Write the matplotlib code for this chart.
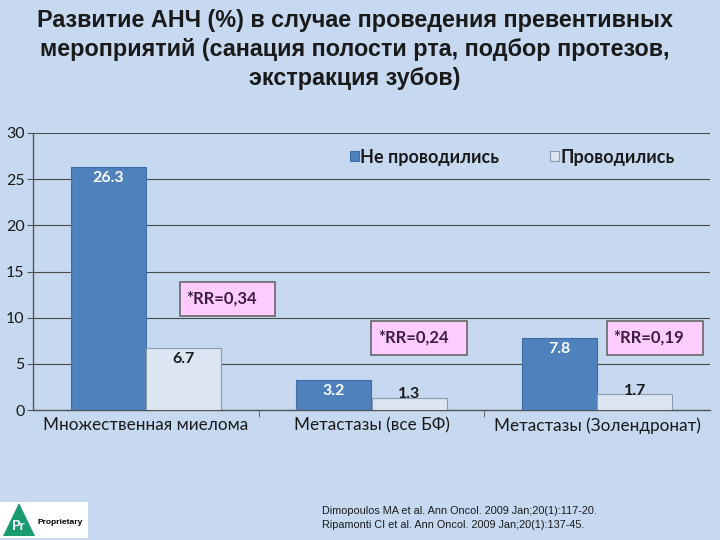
import matplotlib
matplotlib.use("Agg")
import matplotlib.pyplot as plt
from matplotlib.patches import Rectangle, Polygon

categories = ["Множественная миелома", "Метастазы (все БФ)", "Метастазы (Золендронат)"]
not_done = [26.3, 3.2, 7.8]
done = [6.7, 1.3, 1.7]
rr_labels = ["*RR=0,34", "*RR=0,24", "*RR=0,19"]
series_names = ["Не проводились", "Проводились"]
yticks = [0, 5, 10, 15, 20, 25, 30]

BG = "#c6d9f0"
DARK = "#4f81bd"
LIGHT = "#dce6f2"
TXT = "#1a1a1a"
NARROW = ["Liberation Sans", "DejaVu Sans"]

plt.rcParams["font.family"] = ["Lato", "DejaVu Sans"]
fig = plt.figure(figsize=(7.2, 5.4), dpi=100, facecolor=BG)
ax = fig.add_axes([33 / 720, 1 - 410 / 540, 677 / 720, 277 / 540])
ax.set_facecolor(BG)

x = list(range(len(categories)))
w = 0.333
b1 = ax.bar([i - w / 2 for i in x], not_done, w, color=DARK, edgecolor="#3d6ea8", linewidth=0.8, zorder=3)
b2 = ax.bar([i + w / 2 for i in x], done, w, color=LIGHT, edgecolor="#8a9bb0", linewidth=0.8, zorder=3)

for r, v in zip(b1, not_done):
    ax.text(r.get_x() + r.get_width() / 2, v - 0.4, f"{v:.1f}", ha="center", va="top",
            color="white", fontsize=11.5, fontweight="bold", zorder=4)
for r, v in zip(b2, done):
    yy = v - 0.4 if v > 3 else v + 1.15
    ax.text(r.get_x() + r.get_width() / 2, yy, f"{v:.1f}", ha="center", va="top",
            color=TXT, fontsize=11.5, fontweight="bold", zorder=4)

# RR boxes
boxes = [(0.151, 10.2, 0.421, 3.66), (0.998, 5.96, 0.425, 3.68), (2.043, 5.96, 0.426, 3.68)]
for (bx, by, bw, bh), lab in zip(boxes, rr_labels):
    ax.add_patch(Rectangle((bx, by), bw, bh, facecolor="#ffccff", edgecolor="#666666", linewidth=1.2, zorder=5))
    ax.text(bx + 0.03, by + bh / 2, lab, ha="left", va="center", color="#3b1f3f",
            fontsize=12, fontweight="bold", zorder=6)

ax.set_xlim(-0.5, 2.5)
ax.set_ylim(0, 30)
ax.set_yticks(yticks)
ax.set_yticklabels([str(t) for t in yticks], fontsize=11.5, color=TXT)
ax.yaxis.grid(True, color="#4a4a4a", linewidth=0.8, zorder=1)
ax.set_xticks(x)
ax.set_xticklabels(categories, fontsize=12.3, color=TXT)
ax.tick_params(axis="x", length=0, pad=5)
ax.set_xticks([0.5, 1.5], minor=True)
ax.tick_params(axis="x", which="minor", length=5, color="#555555")
ax.tick_params(axis="y", length=4, color="#555555", pad=2)
for s in ["top", "right"]:
    ax.spines[s].set_visible(False)
for s in ["left", "bottom"]:
    ax.spines[s].set_color("#555555")
    ax.spines[s].set_linewidth(1.0)

leg = ax.legend([b1, b2], series_names, loc="center", bbox_to_anchor=(0.708, 0.913), ncol=2,
                frameon=False, handlelength=0.5, handleheight=0.5, handletextpad=0.1,
                columnspacing=2.8, prop={"size": 13, "weight": "bold"})
for t in leg.get_texts():
    t.set_color(TXT)

title = ("Развитие АНЧ (%) в случае проведения превентивных\n"
         "мероприятий (санация полости рта, подбор протезов,\n"
         "экстракция зубов)")
fig.text(0.493, 1 - 9 / 540, title, ha="center", va="top", fontsize=16.8, fontweight="bold",
         family=NARROW, color=TXT, linespacing=1.33)

refs = ("Dimopoulos MA et al. Ann Oncol. 2009 Jan;20(1):117-20.\n"
        "Ripamonti CI et al. Ann Oncol. 2009 Jan;20(1):137-45.")
fig.text(322 / 720, 1 - 518 / 540, refs, ha="left", va="center", fontsize=7.8, family=NARROW,
         color=TXT, linespacing=1.5)

# logo
fig.patches.append(Rectangle((0, 2 / 540), 88 / 720, 36 / 540, transform=fig.transFigure,
                             facecolor="white", edgecolor="none"))
fig.patches.append(Polygon([(3 / 720, 4 / 540), (35 / 720, 4 / 540), (19 / 720, 37 / 540)],
                           closed=True, transform=fig.transFigure, facecolor="#1a9a70", edgecolor="none"))
fig.text(19 / 720, 14 / 540, "Pr", ha="center", va="center", color="white", fontsize=10, fontweight="bold")
fig.text(37 / 720, 18 / 540, "Proprietary", ha="left", va="center", color="black", fontsize=6,
         fontweight="bold", family=NARROW)

fig.savefig("out.png", dpi=100, facecolor=BG)
